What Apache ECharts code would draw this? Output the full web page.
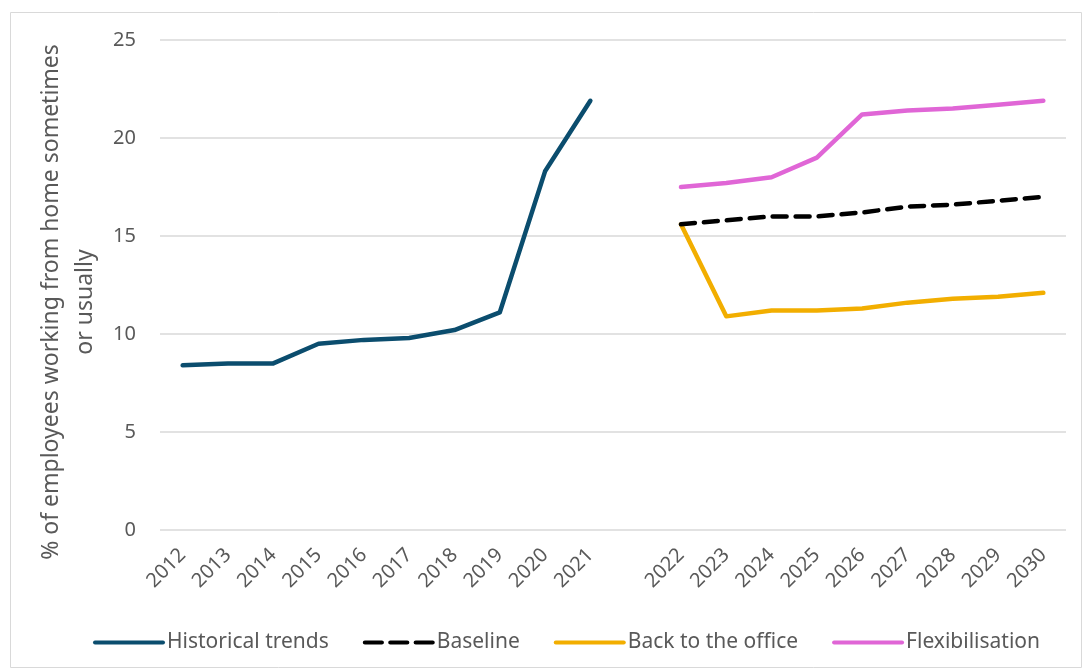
<!DOCTYPE html>
<html>
<head>
<meta charset="utf-8">
<script src="https://cdn.jsdelivr.net/npm/echarts@6/dist/echarts.min.js"></script>
<style>
  html, body { margin: 0; padding: 0; background: #fff; }
  #chart { width: 1086px; height: 671px; }
</style>
</head>
<body>
<div id="chart"></div>
<script>
// Years on the x axis; the blank entry separates observed years from projections
const years = ['2012','2013','2014','2015','2016','2017','2018','2019','2020','2021','',
               '2022','2023','2024','2025','2026','2027','2028','2029','2030'];

// Observed share of employees working from home (%)
const historical = [8.4, 8.5, 8.5, 9.5, 9.7, 9.8, 10.2, 11.1, 18.3, 21.9];

// Projected scenarios, 2022-2030 (%)
const baseline = [15.6, 15.8, 16.0, 16.0, 16.2, 16.5, 16.6, 16.8, 17.0];
const backToOffice = [15.6, 10.9, 11.2, 11.2, 11.3, 11.6, 11.8, 11.9, 12.1];
const flexibilisation = [17.5, 17.7, 18.0, 19.0, 21.2, 21.4, 21.5, 21.7, 21.9];

const yTicks = { min: 0, max: 25, interval: 5 };

const gapCount = years.length - historical.length;
const projOffset = years.length - baseline.length;
const padHist = historical.concat(new Array(gapCount).fill(null));
const padProj = arr => new Array(projOffset).fill(null).concat(arr);

const font = 'Noto Sans';
const textColor = '#595959';

// Legend swatches: a solid bar, and three short bars for the dashed series
const solidIcon = 'path://M2,0 H70 A2,2 0 0 1 70,4 H2 A2,2 0 0 1 2,0 Z';
const dashIcon = 'path://M2,0 H18 A2,2 0 0 1 18,4 H2 A2,2 0 0 1 2,0 Z ' +
                 'M26,0 H42 A2,2 0 0 1 42,4 H26 A2,2 0 0 1 26,0 Z ' +
                 'M50,0 H66 A2,2 0 0 1 66,4 H50 A2,2 0 0 1 50,0 Z';

const chart = echarts.init(document.getElementById('chart'));
chart.setOption({
  animation: false,
  textStyle: { fontFamily: font },
  graphic: [{
    type: 'rect',
    left: 8, top: 10,
    shape: { width: 1071, height: 655 },
    style: { fill: 'none', stroke: '#d9d9d9', lineWidth: 1 },
    silent: true
  }],
  grid: { left: 160, right: 20, top: 40, bottom: 141 },
  legend: {
    top: 627,
    left: 88,
    itemWidth: 72,
    itemHeight: 5,
    itemGap: 34,
    textStyle: { color: textColor, fontSize: 21, fontFamily: font, padding: [0, 0, 0, -3] },
    data: [
      { name: 'Historical trends', icon: solidIcon },
      { name: 'Baseline', icon: dashIcon },
      { name: 'Back to the office', icon: solidIcon },
      { name: 'Flexibilisation', icon: solidIcon }
    ]
  },
  xAxis: {
    type: 'category',
    data: years,
    boundaryGap: true,
    axisLine: { show: false },
    axisTick: { show: false },
    axisLabel: { color: textColor, fontSize: 20, rotate: 45, interval: 0, margin: 22 }
  },
  yAxis: {
    type: 'value',
    min: yTicks.min, max: yTicks.max, interval: yTicks.interval,
    name: '% of employees working from home sometimes\nor usually',
    nameLocation: 'middle',
    nameGap: 48,
    nameTextStyle: {
      color: textColor, fontSize: 23, lineHeight: 34, fontFamily: font,
      padding: [0, 34, 0, 0]
    },
    axisLine: { show: false },
    axisTick: { show: false },
    axisLabel: { color: textColor, fontSize: 20, margin: 24 },
    splitLine: { lineStyle: { color: '#d9d9d9', width: 1.5 } }
  },
  series: [
    {
      name: 'Historical trends', type: 'line', data: padHist,
      symbol: 'none', color: '#0b4d6e',
      lineStyle: { width: 4.5, cap: 'round', join: 'round' }
    },
    {
      name: 'Baseline', type: 'line', data: padProj(baseline),
      symbol: 'none', color: '#000000', z: 3,
      lineStyle: { width: 4.5, type: [14, 9], cap: 'round', join: 'round' }
    },
    {
      name: 'Back to the office', type: 'line', data: padProj(backToOffice),
      symbol: 'none', color: '#f2ae00', z: 2,
      lineStyle: { width: 4.5, cap: 'round', join: 'round' }
    },
    {
      name: 'Flexibilisation', type: 'line', data: padProj(flexibilisation),
      symbol: 'none', color: '#e066d6',
      lineStyle: { width: 4.5, cap: 'round', join: 'round' }
    }
  ]
});
</script>
</body>
</html>
